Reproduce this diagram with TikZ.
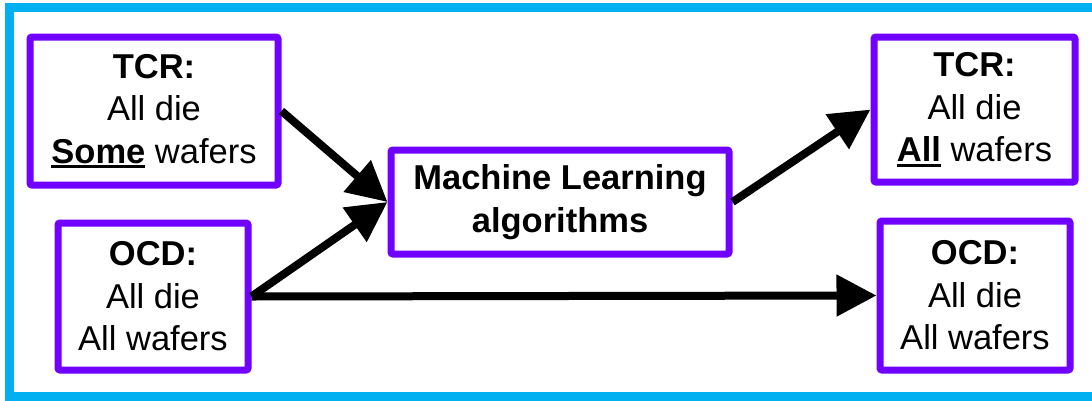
\documentclass[tikz,border=0pt]{standalone}
\usepackage{fontspec}
\setmainfont{Liberation Sans}
\usetikzlibrary{arrows.meta}
\definecolor{framecyan}{HTML}{00B0F0}
\definecolor{boxpurple}{HTML}{7000FF}
\newcommand\myul[1]{\setbox0\hbox{#1}\rlap{\rule[-5pt]{\wd0}{3pt}}\box0\relax}
\tikzset{
  box/.style={draw=boxpurple, line width=7pt, rounded corners=2pt, fill=white,
    inner sep=0pt, align=center, font=\fontsize{34.5}{42.5}\selectfont},
  conn/.style={line width=8pt, -{Triangle[length=40pt,width=40pt]}},
}
\begin{document}
\begin{tikzpicture}[x=1pt,y=-1pt]
\path[use as bounding box] (0,0) rectangle (1092,400);
\clip (0,0) rectangle (1092,400);
\fill[white] (0,0) rectangle (1092,400);
\draw[framecyan, line width=9pt] (9.5,7) rectangle (1110,396);
\node[box, minimum width=248pt, minimum height=148pt] (tl) at (154,111)
  {\textbf{TCR:}\\All die\\\myul{\textbf{Some}} wafers};
\node[box, minimum width=190pt, minimum height=147pt] (ol) at (153,296.5)
  {\textbf{OCD:}\\All die\\All wafers};
\node[box, minimum width=338pt, minimum height=104pt] (ml) at (560,202)
  {\textbf{Machine Learning}\\\textbf{algorithms}};
\node[box, minimum width=201pt, minimum height=145pt] (tr) at (974.5,109.5)
  {\textbf{TCR:}\\All die\\\myul{\textbf{All}} wafers};
\node[box, minimum width=190pt, minimum height=149pt] (or) at (975,295.5)
  {\textbf{OCD:}\\All die\\All wafers};
\draw[conn] (tl.east) -- (ml.west);
\draw[conn] (ol.east) -- (ml.west);
\draw[conn] (ol.east) -- (or.west);
\draw[conn] (ml.east) -- (tr.west);
\end{tikzpicture}
\end{document}
